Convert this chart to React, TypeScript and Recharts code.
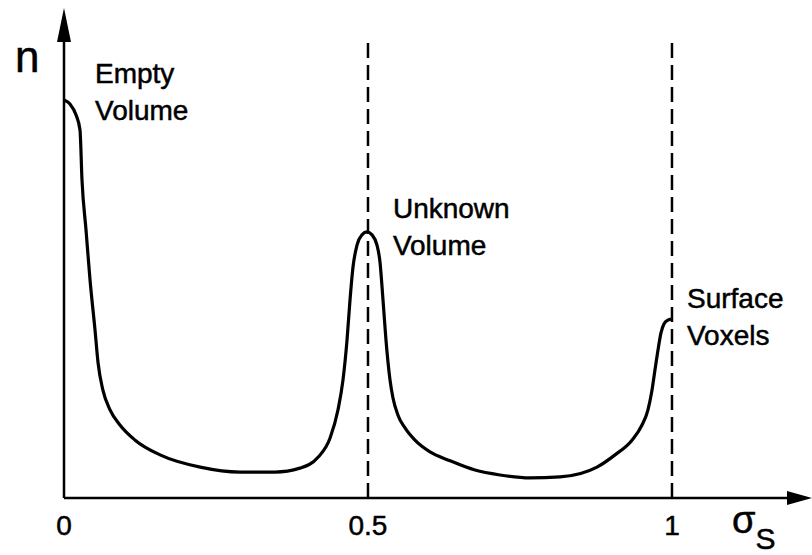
import React from 'react';
import { LineChart, Line, XAxis, YAxis, ReferenceLine, ReferenceDot } from 'recharts';

const sigma = [0, 0.0099, 0.0197, 0.0263, 0.0296, 0.0362, 0.0428, 0.051, 0.056, 0.064, 0.0757, 0.092, 0.117, 0.158, 0.224, 0.2895, 0.347, 0.388, 0.4178, 0.4375, 0.4507, 0.4589, 0.4655, 0.4704, 0.4753, 0.4819, 0.4901, 0.4984, 0.5066, 0.5148, 0.5197, 0.5247, 0.5296, 0.5362, 0.5411, 0.5493, 0.5609, 0.5773, 0.602, 0.6349, 0.676, 0.7171, 0.7664, 0.8158, 0.8766, 0.9063, 0.9342, 0.9507, 0.9605, 0.9671, 0.972, 0.977, 0.9819, 0.9868, 0.9934, 0.9984];
const counts = [81.2, 80.4, 78.2, 75.1, 64.9, 54.7, 44.5, 34.3, 27.6, 22.0, 18.0, 14.9, 11.8, 8.8, 6.3, 5.3, 5.3, 6.1, 8.3, 12.2, 18.0, 24.1, 32.2, 40.4, 47.1, 51.6, 53.7, 54.3, 53.7, 51.6, 48.2, 40.4, 32.2, 24.1, 20.4, 16.9, 14.3, 11.8, 9.4, 7.6, 5.7, 4.7, 4.1, 4.3, 6.3, 8.8, 11.8, 14.9, 18.0, 22.0, 26.1, 30.2, 33.7, 35.5, 36.3, 36.5];

const tickValues = [0, 0.5, 1];
const tickLabels = ['0', '0.5', '1'];
const dashedAt = [0.5, 1];
const dashedTop = 93.1;

const annotations = [
  { x: 0.051, y: 84.7, lines: ['Empty', 'Volume'] },
  { x: 0.541, y: 57.1, lines: ['Unknown', 'Volume'] },
  { x: 1.0247, y: 38.8, lines: ['Surface', 'Voxels'] },
];

const X_MAX = 1.2303;
const Y_MAX = 100;

const data = sigma.map((s, i) => ({ s, n: counts[i] }));

const FONT = '"Liberation Sans", Arial, sans-serif';

const XTick = (props: any) => {
  const { x, y, payload } = props;
  const idx = tickValues.indexOf(payload.value);
  return (
    <text x={x} y={y + 37} textAnchor="middle" fontSize={28} fontFamily={FONT} fill="#000" stroke="#000" strokeWidth={0.5}>
      {tickLabels[idx]}
    </text>
  );
};

export default function App() {
  return (
    <div style={{ position: 'absolute', left: 0, top: 0, width: 812, height: 555, background: '#fff' }}>
      <LineChart width={812} height={555} data={data} margin={{ top: 8, right: 0, bottom: 0, left: 64 }}>
        <XAxis
          dataKey="s"
          type="number"
          domain={[0, X_MAX]}
          ticks={tickValues}
          allowDataOverflow
          axisLine={false}
          tickLine={false}
          tickSize={0}
          tickMargin={0}
          tick={<XTick />}
          height={57}
        />
        <YAxis type="number" domain={[0, Y_MAX]} hide width={0} allowDataOverflow />
        {dashedAt.map((v) => (
          <ReferenceLine
            key={v}
            segment={[{ x: v, y: 0 }, { x: v, y: dashedTop }]}
            stroke="#000"
            strokeWidth={2.5}
            strokeDasharray="15 7"
          />
        ))}
        <ReferenceLine segment={[{ x: 0, y: 0 }, { x: X_MAX - 0.02, y: 0 }]} stroke="#000" strokeWidth={2.5} />
        <ReferenceLine segment={[{ x: 0, y: 0 }, { x: 0, y: Y_MAX - 4 }]} stroke="#000" strokeWidth={2.5} />
        <Line
          type="monotone"
          dataKey="n"
          stroke="#000"
          strokeWidth={3.2}
          dot={false}
          isAnimationActive={false}
        />
        <ReferenceDot
          x={X_MAX}
          y={0}
          r={0}
          ifOverflow="visible"
          shape={(p: any) => (
            <polygon points={`${p.cx},${p.cy} ${p.cx - 25},${p.cy - 7} ${p.cx - 25},${p.cy + 7}`} fill="#000" />
          )}
        />
        <ReferenceDot
          x={0}
          y={Y_MAX}
          r={0}
          ifOverflow="visible"
          shape={(p: any) => (
            <polygon points={`${p.cx},${p.cy} ${p.cx - 7},${p.cy + 34} ${p.cx + 7},${p.cy + 34}`} fill="#000" />
          )}
        />
        <ReferenceDot
          x={0}
          y={86.9}
          r={0}
          ifOverflow="visible"
          shape={(p: any) => (
            <text x={p.cx - 49} y={p.cy} fontSize={44} fontFamily={FONT} fill="#000" stroke="#000" strokeWidth={0.5}>n</text>
          )}
        />
        <ReferenceDot
          x={1.0987}
          y={0}
          r={0}
          ifOverflow="visible"
          shape={(p: any) => (
            <text x={p.cx} y={p.cy + 35} fontSize={38} fontFamily={FONT} fill="#000" stroke="#000" strokeWidth={0.5}>
              σ<tspan fontSize={30} dy={16}>S</tspan>
            </text>
          )}
        />
        {annotations.map((a, i) => (
          <ReferenceDot
            key={i}
            x={a.x}
            y={a.y}
            r={0}
            ifOverflow="visible"
            shape={(p: any) => (
              <text x={p.cx} y={p.cy} fontSize={28} fontFamily={FONT} fill="#000" stroke="#000" strokeWidth={0.5}>
                {a.lines.map((l, j) => (
                  <tspan key={j} x={p.cx} dy={j === 0 ? 0 : 37}>{l}</tspan>
                ))}
              </text>
            )}
          />
        ))}
      </LineChart>
    </div>
  );
}
